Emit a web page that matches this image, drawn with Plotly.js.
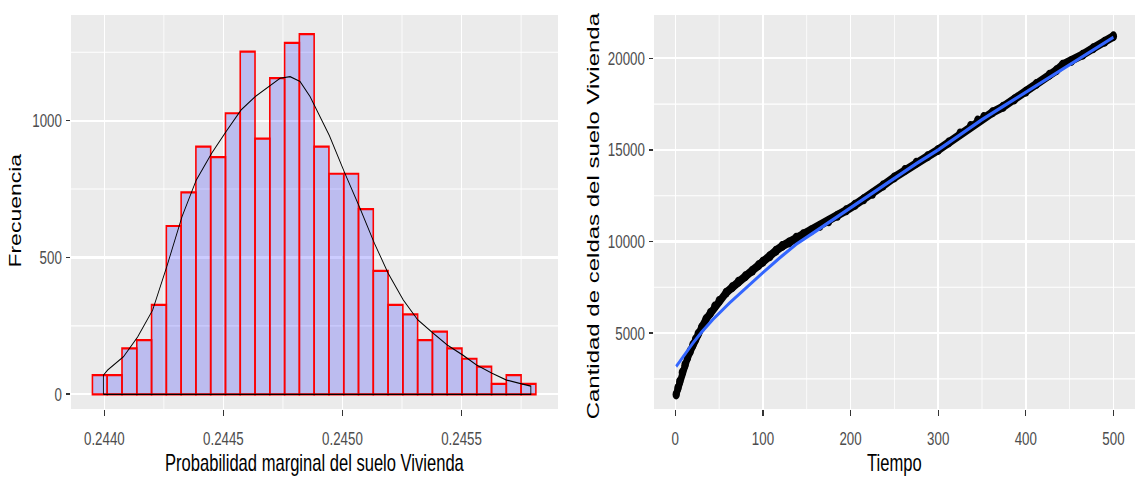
<!DOCTYPE html>
<html>
<head>
<meta charset="utf-8">
<script src="https://cdn.plot.ly/plotly-3.0.1.min.js"></script>
<style>
  html, body { margin: 0; padding: 0; overflow: hidden; background: #ffffff; }
  /* the figure is laid out wide, then narrowed horizontally to its final 1135 px */
  #chart { width: 1576px; height: 478px; transform: scaleX(0.72018); transform-origin: 0 0; }
</style>
</head>
<body>
<div id="chart"></div>
<script>
// ---- Histogram: marginal probability of the "Vivienda" land use ----
const binCenters = [
  0.2439810, 0.2440431, 0.2441052, 0.2441672, 0.2442293, 0.2442914,
  0.2443535, 0.2444155, 0.2444776, 0.2445397, 0.2446017, 0.2446638,
  0.2447259, 0.2447880, 0.2448500, 0.2449121, 0.2449742, 0.2450362,
  0.2450983, 0.2451604, 0.2452225, 0.2452845, 0.2453466, 0.2454087,
  0.2454707, 0.2455328, 0.2455949, 0.2456570, 0.2457190, 0.2457811
];
const binCounts = [
  70, 70, 168, 198, 327, 615, 738, 905, 867, 1027, 1252, 934,
  1155, 1284, 1316, 905, 806, 806, 677, 451, 327, 292, 198, 229,
  168, 130, 101, 38, 70, 38
];
const binWidth = 0.00006207;

// density estimate, scaled to counts
const densX = [
  0.243996, 0.244014, 0.244080, 0.244140, 0.244203, 0.244262, 0.244326,
  0.244386, 0.244451, 0.244511, 0.244574, 0.244634, 0.244698, 0.244738,
  0.244780, 0.244822, 0.244864, 0.244906, 0.244945, 0.245010, 0.245072,
  0.245134, 0.245192, 0.245255, 0.245316, 0.245381, 0.245440, 0.245504,
  0.245563, 0.245628, 0.245689, 0.245752, 0.245791
];
const densY = [
  70, 89, 137, 210, 308, 466, 649,
  783, 881, 960, 1039, 1088, 1128, 1155,
  1161, 1143, 1088, 1015, 945, 808, 683,
  552, 442, 345, 272, 223, 180, 144,
  107, 77, 52, 38, 30
];

const histXTicks = [0.2440, 0.2445, 0.2450, 0.2455];
const histXLabels = ['0.2440', '0.2445', '0.2450', '0.2455'];
const histXMinor = [0.24425, 0.24475, 0.24525, 0.24575];
const histYTicks = [0, 500, 1000];
const histYLabels = ['0', '500', '1000'];
const histYMinor = [250, 750, 1250];

// ---- Time series: number of "Vivienda" cells ----
const tiempo = [
  1, 3, 5, 8, 11, 14, 17, 20, 23, 26, 30, 35, 40, 45, 50, 58, 65, 72, 80, 88,
  95, 100, 108, 115, 122, 130, 138, 146, 155, 165, 175, 185, 195, 205, 215,
  225, 237, 250, 262, 275, 288, 300, 312, 325, 337, 345, 352, 362, 374, 387,
  400, 412, 427, 435, 442, 452, 465, 477, 490, 500
];
const celdas = [
  1650, 2000, 2350, 2850, 3250, 3650, 4000, 4350, 4650, 4950, 5300, 5750,
  6100, 6450, 6750, 7200, 7500, 7800, 8100, 8400, 8700, 8900, 9200, 9500,
  9750, 9950, 10200, 10400, 10600, 10850, 11100, 11400, 11700, 12000, 12300,
  12600, 13050, 13500, 13900, 14300, 14650, 15000, 15400, 15900, 16300, 16600,
  16800, 17050, 17350, 17750, 18170, 18600, 19100, 19350, 19650, 19850, 20200,
  20550, 20900, 21200
];
// smoothed trend
const suaveT = [1, 10, 20, 30, 43, 62, 81, 100, 119, 138, 160, 180, 200, 225,
  250, 275, 300, 325, 350, 375, 400, 425, 450, 475, 500];
const suaveY = [3180, 3800, 4450, 5050, 5750, 6650, 7500, 8300, 9100, 9850,
  10550, 11200, 11850, 12650, 13450, 14250, 15000, 15850, 16650, 17400, 18150,
  18950, 19700, 20450, 21150];

const tsXTicks = [0, 100, 200, 300, 400, 500];
const tsXLabels = ['0', '100', '200', '300', '400', '500'];
const tsXMinor = [50, 150, 250, 350, 450];
const tsYTicks = [5000, 10000, 15000, 20000];
const tsYLabels = ['5000', '10000', '15000', '20000'];
const tsYMinor = [2500, 7500, 12500, 17500];

// ---- styling ----
const FONT = 'Liberation Sans, Arial, sans-serif';
const tickFont = { family: FONT, size: 18.5, color: '#4D4D4D' };

function axisStyle(domain, range, vals, labels, minorVals, isX) {
  return {
    domain: domain,
    range: range,
    tickmode: 'array',
    tickvals: vals,
    ticktext: labels,
    ticks: 'outside',
    ticklen: 6,
    tickwidth: 1.6,
    tickcolor: '#333333',
    tickfont: tickFont,
    ticklabelstandoff: isX ? 7 : 2,
    showgrid: true,
    gridcolor: '#FFFFFF',
    gridwidth: 2.2,
    zeroline: false,
    showline: false,
    fixedrange: true,
    minor: {
      tickmode: 'array',
      tickvals: minorVals,
      showgrid: true,
      gridcolor: '#FFFFFF',
      gridwidth: 1.1,
      ticks: ''
    }
  };
}

const traces = [
  {
    type: 'bar',
    x: binCenters,
    y: binCounts,
    width: binWidth,
    marker: { color: 'rgba(0,0,255,0.2)', line: { color: '#FF0000', width: 2.2 } },
    xaxis: 'x', yaxis: 'y',
    hoverinfo: 'skip'
  },
  {
    type: 'scatter',
    mode: 'lines',
    x: [densX[0]].concat(densX, [densX[densX.length - 1], densX[0]]),
    y: [0].concat(densY, [0, 0]),
    line: { color: '#000000', width: 1.2 },
    xaxis: 'x', yaxis: 'y',
    hoverinfo: 'skip'
  },
  {
    type: 'scatter',
    mode: 'lines+markers',
    x: tiempo,
    y: celdas,
    line: { color: '#000000', width: 9 },
    marker: { color: '#000000', size: 10 },
    xaxis: 'x2', yaxis: 'y2',
    hoverinfo: 'skip'
  },
  {
    type: 'scatter',
    mode: 'lines',
    x: suaveT,
    y: suaveY,
    line: { color: '#3366FF', width: 3.5 },
    xaxis: 'x2', yaxis: 'y2',
    hoverinfo: 'skip'
  }
];

const leftDom = [0.06256, 0.49162];
const rightDom = [0.57621, 1.0];

const layout = {
  width: 1576,
  height: 478,
  margin: { l: 0, r: 0, t: 15, b: 69 },
  paper_bgcolor: '#FFFFFF',
  plot_bgcolor: '#EBEBEB',
  showlegend: false,
  bargap: 0,
  xaxis: axisStyle(leftDom, [0.24386, 0.245905], histXTicks, histXLabels, histXMinor, true),
  yaxis: Object.assign(axisStyle([0, 1], [-53.7, 1386], histYTicks, histYLabels, histYMinor, false), { anchor: 'x' }),
  xaxis2: Object.assign(axisStyle(rightDom, [-24.3, 524.6], tsXTicks, tsXLabels, tsXMinor, true), { anchor: 'y2' }),
  yaxis2: Object.assign(axisStyle([0, 1], [856, 22364], tsYTicks, tsYLabels, tsYMinor, false), { anchor: 'x2' }),
  annotations: [
    {
      text: 'Probabilidad marginal del suelo Vivienda',
      xref: 'paper', yref: 'paper',
      x: (leftDom[0] + leftDom[1]) / 2, y: -0.137,
      xanchor: 'center', yanchor: 'middle', showarrow: false,
      font: { family: FONT, size: 23, color: '#000000' }
    },
    {
      text: 'Tiempo',
      xref: 'paper', yref: 'paper',
      x: (rightDom[0] + rightDom[1]) / 2, y: -0.137,
      xanchor: 'center', yanchor: 'middle', showarrow: false,
      font: { family: FONT, size: 23, color: '#000000' }
    },
    {
      text: 'Frecuencia',
      xref: 'paper', yref: 'paper',
      x: 0.0132, y: 0.503, textangle: -90,
      xanchor: 'center', yanchor: 'middle', showarrow: false,
      font: { family: FONT, size: 23, color: '#000000' }
    },
    {
      text: 'Cantidad de celdas del suelo Vivienda',
      xref: 'paper', yref: 'paper',
      x: 0.5225, y: 0.49, textangle: -90,
      xanchor: 'center', yanchor: 'middle', showarrow: false,
      font: { family: FONT, size: 24, color: '#000000' }
    }
  ]
};

Plotly.newPlot('chart', traces, layout, { displayModeBar: false, staticPlot: true });
</script>
</body>
</html>
